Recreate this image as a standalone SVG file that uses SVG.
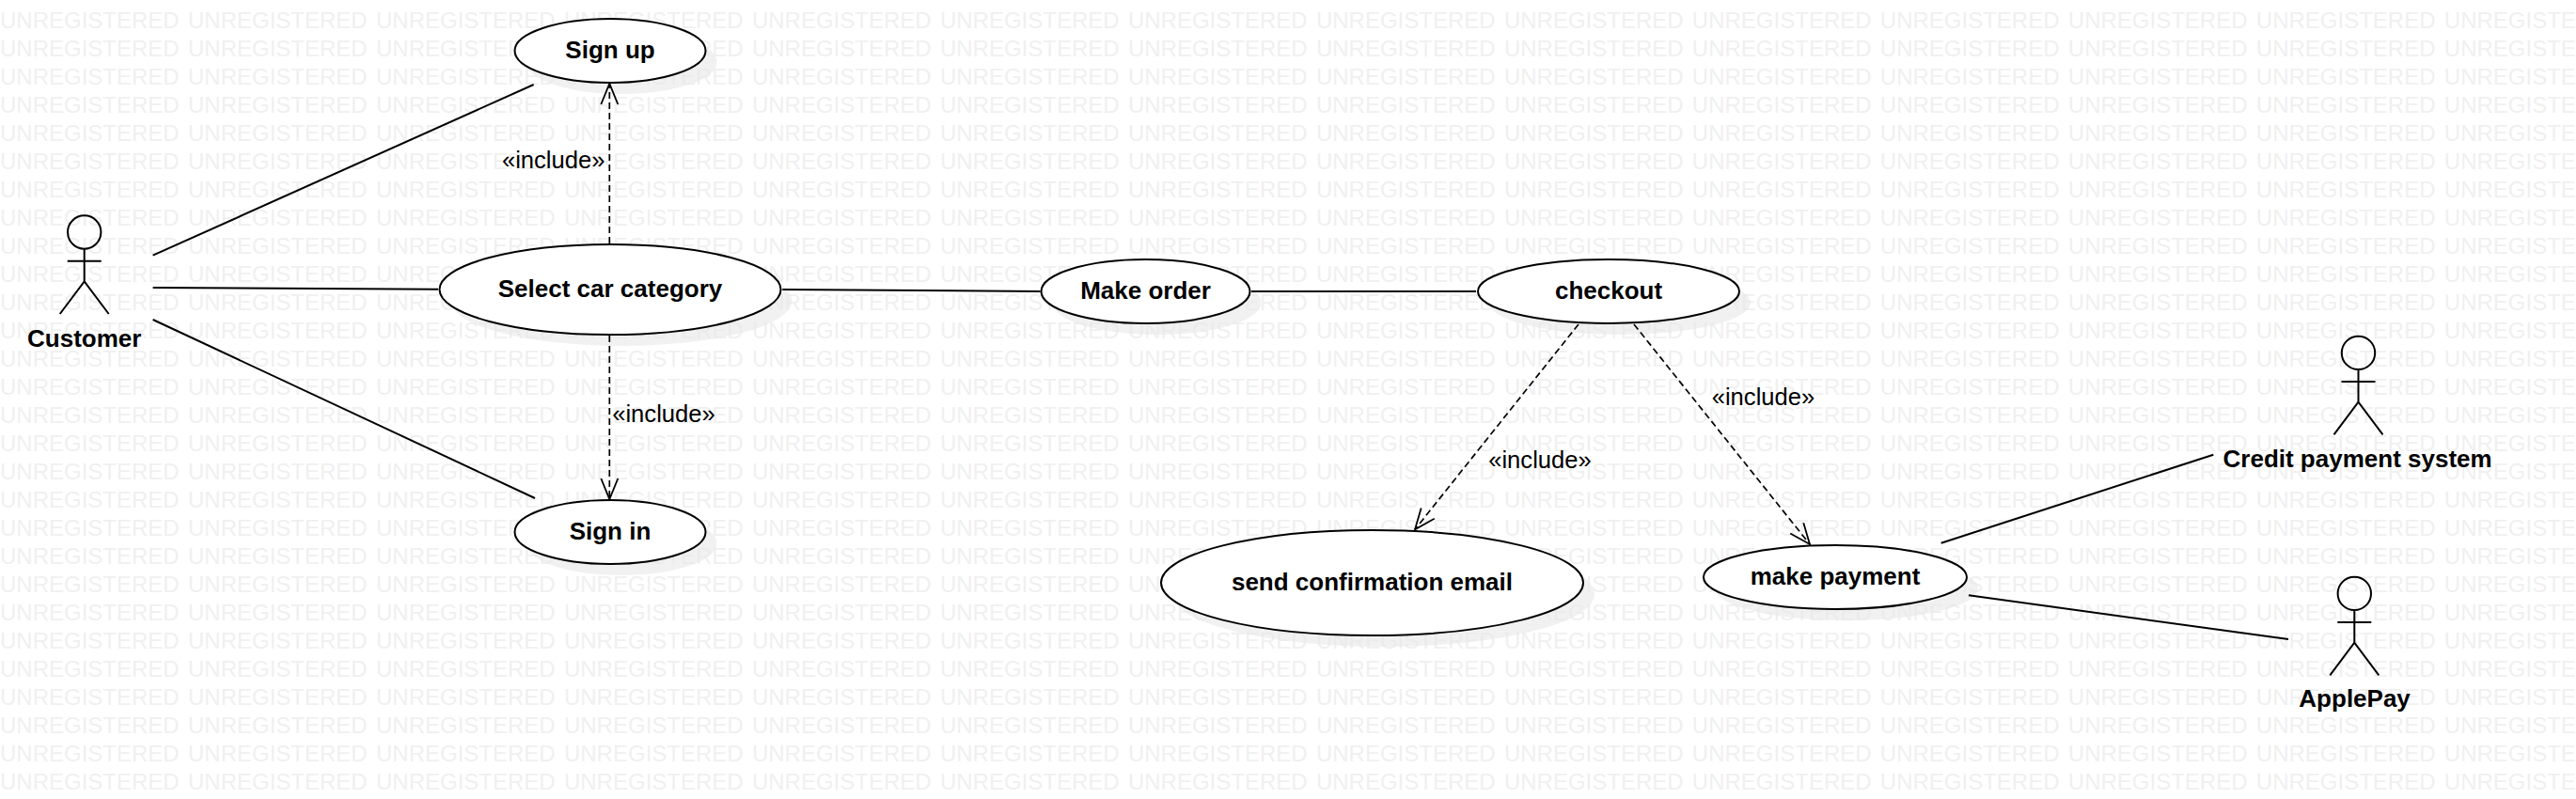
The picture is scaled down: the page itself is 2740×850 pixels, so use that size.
<svg xmlns="http://www.w3.org/2000/svg" width="2740" height="850" viewBox="0 0 2740 850">
<style>
text{font-family:"Liberation Sans",Arial,sans-serif;text-anchor:middle;fill:#000}
.wm{font-size:24px;fill:#f0f0f0;text-anchor:start;word-spacing:2.63px}
.nm{font-size:26px;font-weight:bold}
.lb{font-size:25.6px}
.uc{fill:#fff;stroke:#000;stroke-width:2}
.sh{fill:#e8e8e8;fill-opacity:.6;stroke:none}
.ac{fill:none;stroke:#000;stroke-width:2}
.ln{fill:none;stroke:#000;stroke-width:2}
.da{fill:none;stroke:#000;stroke-width:1.7;stroke-dasharray:7 4;marker-end:url(#open)}
</style>
<defs>
<marker id="open" markerUnits="userSpaceOnUse" markerWidth="30" markerHeight="24" refX="25" refY="12" orient="auto" overflow="visible"><path d="M3,3 L25,12 L3,21" fill="none" stroke="#000" stroke-width="1.8"/></marker>
<text id="wmrow" class="wm" x="0" y="0">UNREGISTERED UNREGISTERED UNREGISTERED UNREGISTERED UNREGISTERED UNREGISTERED UNREGISTERED UNREGISTERED UNREGISTERED UNREGISTERED UNREGISTERED UNREGISTERED UNREGISTERED UNREGISTERED</text>
<g id="figure"><ellipse class="ac" cx="0" cy="17.7" rx="17.7" ry="17.7"/><path class="ac" d="M0,35.4V70M-18,48.4H18M-26,104.7L0,70L26,104.7"/></g>
</defs>
<rect width="2740" height="850" fill="#fff"/>
<g id="watermark">
<use href="#wmrow" y="0"/><use href="#wmrow" y="30"/><use href="#wmrow" y="60"/><use href="#wmrow" y="90"/><use href="#wmrow" y="120"/><use href="#wmrow" y="150"/><use href="#wmrow" y="180"/><use href="#wmrow" y="210"/><use href="#wmrow" y="240"/><use href="#wmrow" y="270"/><use href="#wmrow" y="300"/><use href="#wmrow" y="330"/><use href="#wmrow" y="360"/><use href="#wmrow" y="390"/><use href="#wmrow" y="420"/><use href="#wmrow" y="450"/><use href="#wmrow" y="480"/><use href="#wmrow" y="510"/><use href="#wmrow" y="540"/><use href="#wmrow" y="570"/><use href="#wmrow" y="600"/><use href="#wmrow" y="630"/><use href="#wmrow" y="660"/><use href="#wmrow" y="690"/><use href="#wmrow" y="720"/><use href="#wmrow" y="750"/><use href="#wmrow" y="780"/><use href="#wmrow" y="810"/><use href="#wmrow" y="840"/>
</g>
<g id="signup"><ellipse class="sh" cx="661" cy="66" rx="101.5" ry="34"/><ellipse class="uc" cx="649" cy="54" rx="101.5" ry="34"/><text class="nm" x="649" y="62">Sign up</text></g>
<g id="select"><ellipse class="sh" cx="661" cy="320" rx="181.5" ry="48"/><ellipse class="uc" cx="649" cy="308" rx="181.5" ry="48"/><text class="nm" x="649" y="316">Select car category</text></g>
<g id="signin"><ellipse class="sh" cx="661" cy="578" rx="101.5" ry="34"/><ellipse class="uc" cx="649" cy="566" rx="101.5" ry="34"/><text class="nm" x="649" y="574">Sign in</text></g>
<g id="makeorder"><ellipse class="sh" cx="1230.5" cy="322" rx="111" ry="34"/><ellipse class="uc" cx="1218.5" cy="310" rx="111" ry="34"/><text class="nm" x="1218.5" y="318">Make order</text></g>
<g id="checkout"><ellipse class="sh" cx="1723" cy="322" rx="139" ry="34"/><ellipse class="uc" cx="1711" cy="310" rx="139" ry="34"/><text class="nm" x="1711" y="318">checkout</text></g>
<g id="sendemail"><ellipse class="sh" cx="1471.5" cy="632" rx="224.5" ry="56"/><ellipse class="uc" cx="1459.5" cy="620" rx="224.5" ry="56"/><text class="nm" x="1459.5" y="628">send confirmation email</text></g>
<g id="makepayment"><ellipse class="sh" cx="1964" cy="626" rx="140" ry="34"/><ellipse class="uc" cx="1952" cy="614" rx="140" ry="34"/><text class="nm" x="1952" y="621.7">make payment</text></g>
<g id="customer"><use href="#figure" x="89.7" y="229.3"/><text class="nm" x="89.7" y="369">Customer</text></g>
<g id="credit"><use href="#figure" x="2508.5" y="357.7"/><text class="nm" x="2507.6" y="496.7">Credit payment system</text></g>
<g id="applepay"><use href="#figure" x="2504.3" y="613.7"/><text class="nm" x="2504.6" y="752.3">ApplePay</text></g>
<g id="connectors">
<path class="ln" d="M162.6,271.7L567.6,90"/>
<path class="ln" d="M162.6,306L466,307.7"/>
<path class="ln" d="M162.6,340L569,530"/>
<path class="ln" d="M832.3,308L1106.6,310"/>
<path class="ln" d="M1331,310H1570"/>
<path class="ln" d="M2064.7,577.7L2354.3,483.7"/>
<path class="ln" d="M2094,633.3L2434,680"/>
<path class="da" d="M648.3,259V89"/>
<path class="da" d="M648.3,357V531"/>
<path class="da" d="M1679,345L1505,563.3"/>
<path class="da" d="M1738,345L1925,579"/>
<text class="lb" x="588.7" y="179">«include»</text>
<text class="lb" x="706" y="449">«include»</text>
<text class="lb" x="1638" y="497.5">«include»</text>
<text class="lb" x="1875.5" y="431">«include»</text>
</g>
</svg>
